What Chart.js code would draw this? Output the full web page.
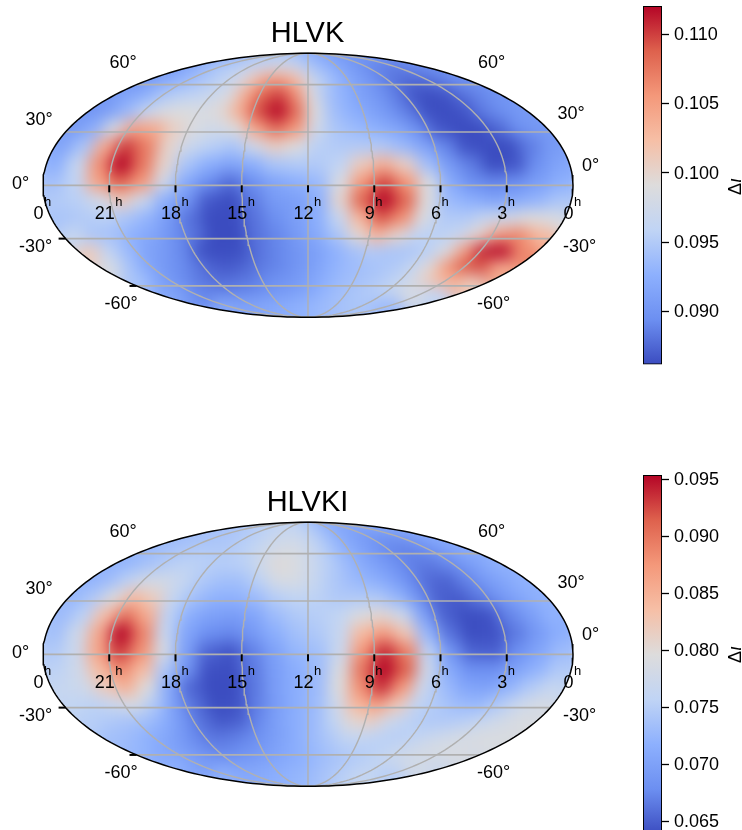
<!DOCTYPE html>
<html>
<head>
<meta charset="utf-8">
<title>HLVK / HLVKI</title>
<script src="https://cdn.jsdelivr.net/npm/chart.js@4/dist/chart.umd.min.js"></script>
<style>
  html, body { margin: 0; padding: 0; background: #fff; overflow: hidden; }
  body { position: relative; width: 742px; height: 830px; }
  canvas { position: absolute; }
</style>
</head>
<body>
<canvas id="mapHlvk" style="left:0;top:0"></canvas>
<canvas id="barHlvk" style="left:620px;top:0"></canvas>
<canvas id="mapHlvki" style="left:0;top:469px"></canvas>
<canvas id="barHlvki" style="left:620px;top:470px"></canvas>
<script>
// right ascension of each column (hours), left to right
const raHours = [23.5, 22.5, 21.5, 20.5, 19.5, 18.5, 17.5, 16.5, 15.5, 14.5, 13.5, 12.5,
                 11.5, 10.5, 9.5, 8.5, 7.5, 6.5, 5.5, 4.5, 3.5, 2.5, 1.5, 0.5];
// declination of each row (degrees), top to bottom
const decDegrees = [80, 70, 60, 50, 40, 30, 20, 10, 0, -10, -20, -30, -40, -50, -60, -70, -80];

// delta iota, in units of 1e-4
const hlvkValues = [
  [915,920,925,930,935,940,945,945,945,945,945,940,930,925,920,915,910,905,900,900,900,905,905,910],
  [905,915,925,935,945,950,955,960,965,975,975,965,950,935,925,915,905,895,888,885,885,890,895,900],
  [900,910,920,930,940,950,960,975,1015,1050,1050,1025,975,950,930,915,905,890,880,875,878,885,895,900],
  [905,915,925,945,955,960,970,985,1040,1085,1100,1060,985,940,925,910,900,885,866,862,866,880,890,900],
  [900,910,935,965,985,990,985,995,1040,1095,1140,1080,990,940,925,915,900,885,864,858,866,885,895,905],
  [905,925,985,1045,1040,1005,985,975,990,1045,1080,1055,975,945,935,925,915,895,868,858,858,875,895,905],
  [915,945,1040,1100,1070,1000,970,955,945,975,1005,990,955,950,950,950,935,915,890,865,856,862,885,905],
  [925,965,1060,1140,1075,1000,945,925,915,925,945,950,950,960,1010,1035,1005,940,905,885,862,866,895,915],
  [940,960,1045,1085,1055,975,920,895,878,895,915,925,935,985,1055,1095,1055,985,920,895,890,895,910,925],
  [950,955,975,1010,970,925,900,868,862,885,905,910,925,1000,1085,1140,1085,990,935,925,915,920,930,945],
  [945,950,955,945,930,905,880,858,860,880,895,910,925,965,1030,1090,1060,985,950,950,965,975,990,985],
  [965,945,940,925,915,895,880,858,858,880,890,905,920,945,995,1030,1000,960,955,965,1000,1050,1065,1030],
  [1010,960,935,915,905,890,864,855,864,880,890,900,910,925,940,950,945,945,955,985,1050,1110,1130,1065],
  [985,945,920,905,895,885,872,868,875,885,890,900,910,925,935,940,945,950,965,995,1055,1090,1095,1040],
  [945,925,905,895,885,880,878,882,885,895,900,905,915,925,935,940,945,950,960,975,1005,1030,1035,1010],
  [920,905,895,890,888,888,890,892,895,900,905,910,915,925,935,940,945,950,955,965,975,985,975,960],
  [925,920,915,915,915,915,915,920,920,920,925,925,930,930,935,935,940,940,945,945,945,945,940,935]
];
const hlvkiValues = [
  [735,735,740,740,745,745,750,755,755,760,760,755,750,740,725,715,710,705,705,705,710,715,720,725],
  [730,730,735,735,740,740,745,750,755,765,770,770,760,745,725,710,700,690,685,685,690,700,705,715],
  [725,730,735,740,745,745,745,750,760,775,785,785,770,750,725,710,695,680,672,672,680,695,705,715],
  [720,725,735,745,755,755,750,750,755,780,800,790,770,750,730,710,695,680,668,665,675,690,705,720],
  [720,730,755,780,780,765,745,735,735,755,785,785,765,745,730,720,705,680,658,652,670,690,705,720],
  [725,745,795,840,815,760,735,720,720,730,750,760,755,745,745,745,725,685,652,648,665,685,705,720],
  [730,755,835,900,855,755,715,700,695,705,730,745,750,760,790,805,775,700,652,640,642,672,695,720],
  [735,775,860,970,890,765,705,680,675,690,715,735,745,765,840,870,825,725,662,640,642,665,690,715],
  [745,770,860,930,880,785,700,655,645,670,700,725,735,770,875,935,890,755,685,652,650,680,705,730],
  [755,775,840,885,840,745,685,642,640,665,695,715,730,790,900,985,915,775,710,680,680,700,720,745],
  [765,775,820,850,795,710,655,637,637,665,695,715,730,795,880,935,875,770,730,705,700,720,745,765],
  [760,755,770,790,745,695,660,640,642,668,695,715,730,775,845,870,825,760,745,730,725,745,770,785],
  [750,745,740,735,715,685,660,645,650,675,700,715,730,760,805,815,775,755,745,745,750,765,780,790],
  [735,730,720,710,695,675,662,665,672,685,700,715,730,745,765,765,755,750,755,765,775,785,790,790],
  [725,715,705,695,685,675,672,678,685,695,705,715,725,735,745,750,750,755,765,775,785,790,790,785],
  [720,710,700,695,690,690,690,695,700,705,710,715,720,730,735,740,745,750,760,770,775,780,780,775],
  [725,720,715,710,710,710,710,715,715,720,720,725,725,730,735,740,745,750,755,760,765,765,760,750]
];
const valueUnit = 1e-4;

// colour limits of the two colorbars
const hlvkRange = [0.08617, 0.11202];
const hlvkiRange = [0.0639, 0.09538];

// axis labels
const decLabels = ['60°', '30°', '0°', '-30°', '-60°'];
const raLabels = ['0', '21', '18', '15', '12', '9', '6', '3', '0'];
const raTicks = [24, 21, 18, 15, 12, 9, 6, 3, 0];
const gridRa = [21, 18, 15, 12, 9, 6, 3];
const gridDec = [60, 30, 0, -30, -60];

// where the text sits, in panel pixels
const decLabelsLeft = [[123, 63.5], [39, 120], [20.7, 184.5], [35.5, 247.5], [121, 304]];
const decLabelsRight = [[491.7, 63.5], [571, 114], [590.7, 166.5], [579.7, 247.5], [493.7, 304]];

const FONT = '"Liberation Sans", Arial, sans-serif';

// matplotlib coolwarm
const coolwarm = ['#3b4cc0', '#6c8ff1', '#8db0fe', '#c0d4f5', '#dddcdc', '#f6bfa6', '#f4987a', '#de614d', '#b40426'];
const coolwarmRgb = coolwarm.map(c => [1, 3, 5].map(i => parseInt(c.substr(i, 2), 16)));

function colorAt(t) {
  t = Math.max(0, Math.min(1, t)) * (coolwarm.length - 1);
  const i = Math.min(Math.floor(t), coolwarm.length - 2);
  const f = t - i;
  const a = coolwarmRgb[i], b = coolwarmRgb[i + 1];
  return `rgb(${a.map((v, k) => Math.round(v + (b[k] - v) * f)).join(',')})`;
}

// Mollweide projection
function thetaOf(decDeg) {
  const phi = decDeg * Math.PI / 180;
  if (Math.abs(decDeg) === 90) return phi;
  let th = phi;
  for (let i = 0; i < 30; i++) {
    th -= (2 * th + Math.sin(2 * th) - Math.PI * Math.sin(phi)) / (2 + 2 * Math.cos(2 * th));
  }
  return th;
}
function project(ra, theta) {
  const lon = (12 - ra) * 15 * Math.PI / 180;
  return { x: 2 * Math.SQRT2 / Math.PI * lon * Math.cos(theta), y: Math.SQRT2 * Math.sin(theta) };
}

function cellPoints(values, range, keep) {
  const pts = [], colors = [];
  decDegrees.forEach((dec, r) => {
    const th = thetaOf(dec);
    raHours.forEach((ra, c) => {
      if (!keep(r, c)) return;
      pts.push(project(ra, th));
      colors.push(colorAt((values[r][c] * valueUnit - range[0]) / (range[1] - range[0])));
    });
  });
  return { pts, colors };
}

function meridian(ra) {
  const pts = [];
  for (let i = -60; i <= 60; i++) pts.push(project(ra, i / 60 * Math.PI / 2));
  return pts;
}
function lineSet(data, color, width, order) {
  return { label: 'line', data, showLine: true, borderColor: color, borderWidth: width, pointRadius: 0,
           fill: false, tension: 0, clip: false, order };
}

// smooths the cell mosaic and keeps it inside the ellipse
const blurCells = {
  id: 'blurCells',
  afterDatasetDraw(chart, args) {
    if (chart.data.datasets[args.index].label !== 'cells') return;
    const { ctx, canvas, chartArea: a } = chart;
    const dpr = chart.currentDevicePixelRatio;
    const tmp = document.createElement('canvas');
    tmp.width = canvas.width; tmp.height = canvas.height;
    tmp.getContext('2d').drawImage(canvas, 0, 0);
    ctx.save();
    ctx.setTransform(1, 0, 0, 1, 0, 0);
    ctx.clearRect(0, 0, canvas.width, canvas.height);
    ctx.beginPath();
    ctx.ellipse((a.left + a.right) / 2 * dpr, (a.top + a.bottom) / 2 * dpr,
                (a.right - a.left) / 2 * dpr, (a.bottom - a.top) / 2 * dpr, 0, 0, Math.PI * 2);
    ctx.clip();
    ctx.filter = `blur(${7.5 * dpr}px)`;
    ctx.drawImage(tmp, 0, 0);
    ctx.restore();
  }
};

// tick stubs and all the labels of a map panel
const mapText = {
  id: 'mapText',
  afterDraw(chart, args, opts) {
    const { ctx, scales } = chart;
    const sx = scales.x, sy = scales.y;
    ctx.save();
    ctx.strokeStyle = '#000';
    ctx.lineWidth = 2;
    const y0 = sy.getPixelForValue(0);
    raTicks.forEach(ra => {
      if (ra === 0 || ra === 24) return;
      const px = sx.getPixelForValue(project(ra, 0).x);
      ctx.beginPath(); ctx.moveTo(px, y0); ctx.lineTo(px, y0 + 7); ctx.stroke();
    });
    [-30, -60].forEach(dec => {
      const p = project(24, thetaOf(dec));
      const px = sx.getPixelForValue(p.x), py = sy.getPixelForValue(p.y);
      ctx.beginPath(); ctx.moveTo(px, py); ctx.lineTo(px - 7, py); ctx.stroke();
    });

    ctx.fillStyle = '#000';
    ctx.textBaseline = 'middle';
    ctx.textAlign = 'center';
    ctx.font = `18px ${FONT}`;
    decLabels.forEach((t, i) => {
      ctx.fillText(t, decLabelsLeft[i][0], decLabelsLeft[i][1]);
      ctx.fillText(t, decLabelsRight[i][0], decLabelsRight[i][1]);
    });

    ctx.textBaseline = 'alphabetic';
    ctx.textAlign = 'left';
    raLabels.forEach((t, i) => {
      const px = sx.getPixelForValue(project(raTicks[i], 0).x);
      ctx.font = `18px ${FONT}`;
      const w = ctx.measureText(t).width;
      const left = px - (w + 7) / 2 - 1;
      ctx.fillText(t, left, 218.5);
      ctx.font = `13px ${FONT}`;
      ctx.fillText('h', left + w + 0.5, 205.5);
    });

    ctx.textAlign = 'center';
    ctx.font = `29px ${FONT}`;
    ctx.fillText(opts.title, 307.5, 42);
    ctx.restore();
  }
};

// rotated colorbar label
const barLabel = {
  id: 'barLabel',
  afterDraw(chart, args, opts) {
    const { ctx } = chart;
    ctx.save();
    ctx.translate(120.5, opts.y);
    ctx.rotate(-Math.PI / 2);
    ctx.fillStyle = '#000';
    ctx.textAlign = 'left';
    ctx.font = `18px ${FONT}`;
    ctx.fillText('Δ', 0, 0);
    const w = ctx.measureText('Δ').width;
    ctx.font = `italic 18px ${FONT}`;
    ctx.fillText('ι', w + 0.5, 0);
    ctx.restore();
  }
};

function makeMap(id, title, values, range) {
  const canvas = document.getElementById(id);
  canvas.width = 620; canvas.height = 370;
  const cells = cellPoints(values, range, () => true);
  const edge = cellPoints(values, range, (r, c) => c === 0 || c === raHours.length - 1 || r === 0 || r === decDegrees.length - 1);

  const datasets = [
    { label: 'edge', data: edge.pts, pointStyle: 'rect', pointRadius: 32, pointBorderWidth: 0,
      pointBackgroundColor: edge.colors, clip: false, order: 6 },
    { label: 'cells', data: cells.pts, pointStyle: 'rect', pointRadius: 17, pointBorderWidth: 0,
      pointBackgroundColor: cells.colors, clip: false, order: 5 }
  ];
  gridDec.forEach(dec => {
    const th = thetaOf(dec);
    datasets.push(lineSet([project(24, th), project(0, th)], '#b0b0b0', 1.7, 3));
  });
  gridRa.forEach(ra => datasets.push(lineSet(meridian(ra), '#b0b0b0', 1.4, 3)));
  const outline = [];
  for (let i = -60; i <= 60; i++) outline.push(project(24, i / 60 * Math.PI / 2));
  for (let i = 60; i >= -60; i--) outline.push(project(0, i / 60 * Math.PI / 2));
  datasets.push(lineSet(outline, '#000', 1.5, 1));

  return new Chart(canvas, {
    type: 'scatter',
    data: { datasets },
    plugins: [blurCells, mapText],
    options: {
      responsive: false,
      animation: false,
      events: [],
      layout: { padding: { left: 43, right: 47, top: 53.3, bottom: 52.7 } },
      scales: {
        x: { display: false, min: -2 * Math.SQRT2, max: 2 * Math.SQRT2 },
        y: { display: false, min: -Math.SQRT2, max: Math.SQRT2 }
      },
      plugins: { legend: { display: false }, tooltip: { enabled: false }, mapText: { title } }
    }
  });
}

function makeBar(id, range, labelY, padTop, padBottom) {
  const canvas = document.getElementById(id);
  canvas.width = 122; canvas.height = 370;
  return new Chart(canvas, {
    type: 'bar',
    data: {
      labels: [''],
      datasets: [{
        data: [[range[0], range[1]]],
        backgroundColor(c) {
          const a = c.chart.chartArea;
          if (!a) return '#ddd';
          const g = c.chart.ctx.createLinearGradient(0, a.bottom, 0, a.top);
          coolwarm.forEach((col, i) => g.addColorStop(i / (coolwarm.length - 1), col));
          return g;
        },
        borderColor: '#000',
        borderWidth: 1.3,
        borderSkipped: false,
        barPercentage: 1,
        categoryPercentage: 1
      }]
    },
    plugins: [barLabel],
    options: {
      responsive: false,
      animation: false,
      events: [],
      layout: { padding: { left: 23, right: 0, top: padTop, bottom: padBottom } },
      scales: {
        x: { display: false },
        y: {
          position: 'right',
          min: range[0],
          max: range[1],
          afterFit(s) { s.width = 80; s.paddingTop = 0; s.paddingBottom = 0; },
          border: { display: false },
          grid: { drawOnChartArea: false, tickLength: 7, tickColor: '#000', tickWidth: 1.3 },
          ticks: {
            stepSize: 0.005,
            includeBounds: false,
            padding: 5,
            labelOffset: 1,
            color: '#000',
            font: { family: FONT, size: 18 },
            callback: v => v.toFixed(3)
          }
        }
      },
      plugins: { legend: { display: false }, tooltip: { enabled: false }, barLabel: { y: labelY } }
    }
  });
}

makeMap('mapHlvk', 'HLVK', hlvkValues, hlvkRange);
makeMap('mapHlvki', 'HLVKI', hlvkiValues, hlvkiRange);
makeBar('barHlvk', hlvkRange, 195, 6, 5.5);
makeBar('barHlvki', hlvkiRange, 193, 5, 6);
</script>
</body>
</html>
